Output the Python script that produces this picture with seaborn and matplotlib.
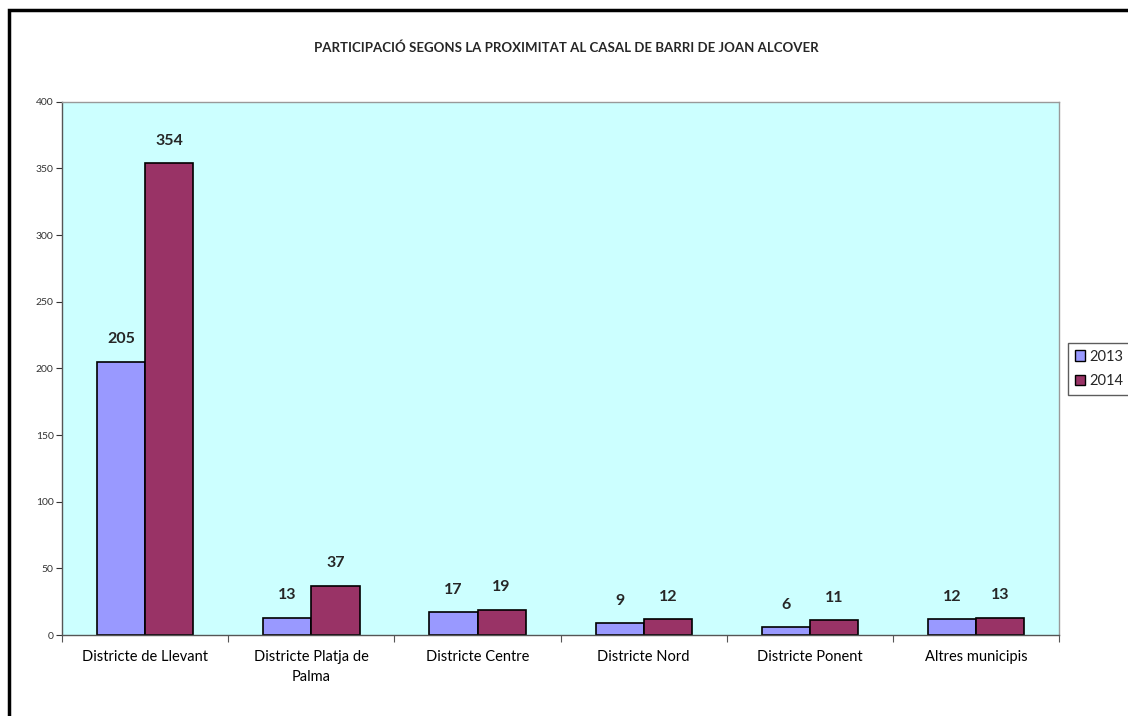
# gràfic de participació per districte
import pandas as pd
import matplotlib.pyplot as plt
import matplotlib.patches as mpatches
import seaborn as sns

# dades
districtes = ["Districte de Llevant", "Districte Platja de\nPalma", "Districte Centre",
              "Districte Nord", "Districte Ponent", "Altres municipis"]
anys = ["2013", "2014"]
valors_2013 = [205, 13, 17, 9, 6, 12]
valors_2014 = [354, 37, 19, 12, 11, 13]
y_ticks = [0, 50, 100, 150, 200, 250, 300, 350, 400]

df = pd.DataFrame({
    "districte": districtes * 2,
    "any": [anys[0]] * len(districtes) + [anys[1]] * len(districtes),
    "valor": valors_2013 + valors_2014,
})

sns.set_style("white")
plt.rcParams["font.family"] = ["Lato", "DejaVu Sans"]

fig = plt.figure(figsize=(11.28, 7.16), dpi=100)
ax = fig.add_axes([0.055, 0.113, 0.884, 0.745])
ax.set_facecolor("#CCFFFF")

sns.barplot(data=df, x="districte", y="valor", hue="any", order=districtes,
            palette={"2013": "#9999FF", "2014": "#993366"}, width=0.58,
            edgecolor="black", linewidth=1.2, saturation=1, ax=ax)

# etiquetes de valor
for cont in ax.containers:
    ax.bar_label(cont, padding=11, fontsize=11.5, fontweight="bold")

ax.set_ylim(0, 400)
ax.set_xlim(-0.5, len(districtes) - 0.5)
ax.set_yticks(y_ticks)
ax.tick_params(axis="y", labelsize=7.5, length=4, direction="out", left=True, colors="#333333", pad=2)
ax.set_xticks([i - 0.5 for i in range(len(districtes) + 1)])
ax.set_xticklabels([])
ax.set_xticks(range(len(districtes)), minor=True)
ax.set_xticklabels(districtes, minor=True, fontsize=10.5, linespacing=1.5)
ax.tick_params(axis="x", which="major", length=5, direction="out", bottom=True, colors="#555555")
ax.tick_params(axis="x", which="minor", length=0, pad=11, labelcolor="black")
ax.set_xlabel("")
ax.set_ylabel("")

for s in ["left", "bottom"]:
    ax.spines[s].set_color("#555555")
    ax.spines[s].set_linewidth(1)
for s in ["top", "right"]:
    ax.spines[s].set_color("#999999")
    ax.spines[s].set_linewidth(1)

ax.legend_.remove()
handles = [mpatches.Patch(facecolor="#9999FF", edgecolor="black"),
           mpatches.Patch(facecolor="#993366", edgecolor="black")]
fig.legend(handles, anys, loc="upper left", bbox_to_anchor=(0.947, 0.521),
           fontsize=10.5, handlelength=0.7, handleheight=0.7, handletextpad=0.3,
           frameon=True, fancybox=False, edgecolor="#333333", borderpad=0.45,
           borderaxespad=0.0, labelspacing=0.75)

fig.text(0.502, 0.934, "PARTICIPACIÓ SEGONS LA PROXIMITAT AL CASAL DE BARRI DE JOAN ALCOVER",
         ha="center", va="center", fontsize=9.5, fontweight="bold")

# marc del gràfic
fig.patches.append(mpatches.Rectangle((0.008, -0.05), 1.1, 1.036, transform=fig.transFigure,
                                      fill=False, edgecolor="black", linewidth=2.5))

plt.savefig("out.png", dpi=100)
